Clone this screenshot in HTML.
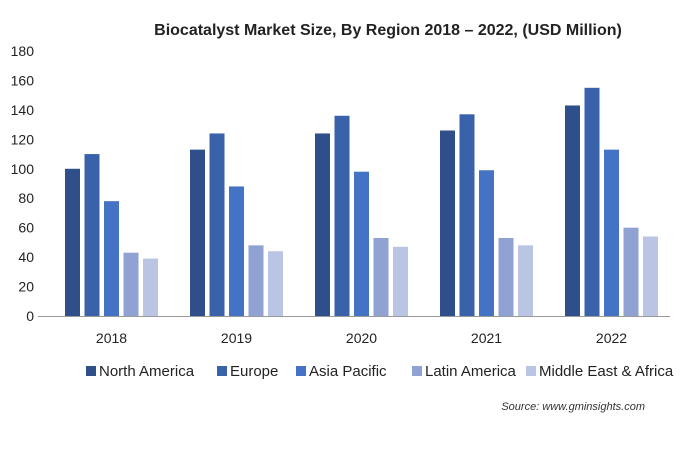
<!DOCTYPE html>
<html><head><meta charset="utf-8"><style>
body{margin:0;background:#fff;font-family:"Liberation Sans",sans-serif;}
svg text{font-family:"Liberation Sans",sans-serif;}
</style></head><body>
<svg id="chart" width="687" height="447" viewBox="0 0 687 447">
<text x="388" y="35" text-anchor="middle" font-size="16" font-weight="bold" fill="#222">Biocatalyst Market Size, By Region 2018 – 2022, (USD Million)</text>
<g id="yaxis"></g>
<g id="bars"></g>
<g id="xaxis"></g>
<g id="legend"></g>
<text x="645" y="410" text-anchor="end" font-size="11" font-style="italic" fill="#333">Source: www.gminsights.com</text>
</svg>
<script>
const categories=["2018","2019","2020","2021","2022"];
const seriesNames=["North America","Europe","Asia Pacific","Latin America","Middle East & Africa"];
const northAmerica=[100,113,124,126,143];
const europe=[110,124,136,137,155];
const asiaPacific=[78,88,98,99,113];
const latinAmerica=[43,48,53,53,60];
const mea=[39,44,47,48,54];
const yTicks=[0,20,40,60,80,100,120,140,160,180];
const colors=["#2f4f8a","#3a62ab","#4472c4","#8fa2d2","#bac5e4"];
const series=[northAmerica,europe,asiaPacific,latinAmerica,mea];
const NS="http://www.w3.org/2000/svg";
const x0=49,x1=674,y0=316,yTop=51,yMax=180;
const band=(x1-x0)/categories.length;
const y=v=>y0-(v/yMax)*(y0-yTop);
const xc=i=>x0+band*(i+0.5);
function mk(t,a,p){const e=document.createElementNS(NS,t);for(const k in a)e.setAttribute(k,a[k]);p.appendChild(e);return e;}
const ya=document.getElementById('yaxis');
yTicks.forEach(t=>{const e=mk('text',{x:34,y:y(t)+5,'text-anchor':'end','font-size':14,fill:'#222'},ya);e.textContent=t;

});
const bg=document.getElementById('bars');
const pitch=19.5,bw=15;
series.forEach((s,j)=>s.forEach((v,i)=>{const bx=xc(i)+(j-2)*pitch-bw/2;
const r=mk('rect',{x:bx,y:y(v),width:bw,height:y0-y(v),fill:colors[j]},bg);

}));
const xa=document.getElementById('xaxis');
const ln=mk('line',{x1:38,x2:670,y1:y0+0.5,y2:y0+0.5,stroke:'#999','stroke-width':1},xa);


categories.forEach((c,i)=>{const e=mk('text',{x:xc(i),y:y0+27,'text-anchor':'middle','font-size':14,fill:'#222'},xa);e.textContent=c;

});
const lg=document.getElementById('legend');
const lx=[86,217,296,412,526];
seriesNames.forEach((n,j)=>{const g=mk('g',{},lg);


mk('rect',{x:lx[j],y:366,width:10,height:10,fill:colors[j]},g);
const t=mk('text',{x:lx[j]+13,y:376,'font-size':15,fill:'#222'},g);t.textContent=n;});
</script>
</body></html>
